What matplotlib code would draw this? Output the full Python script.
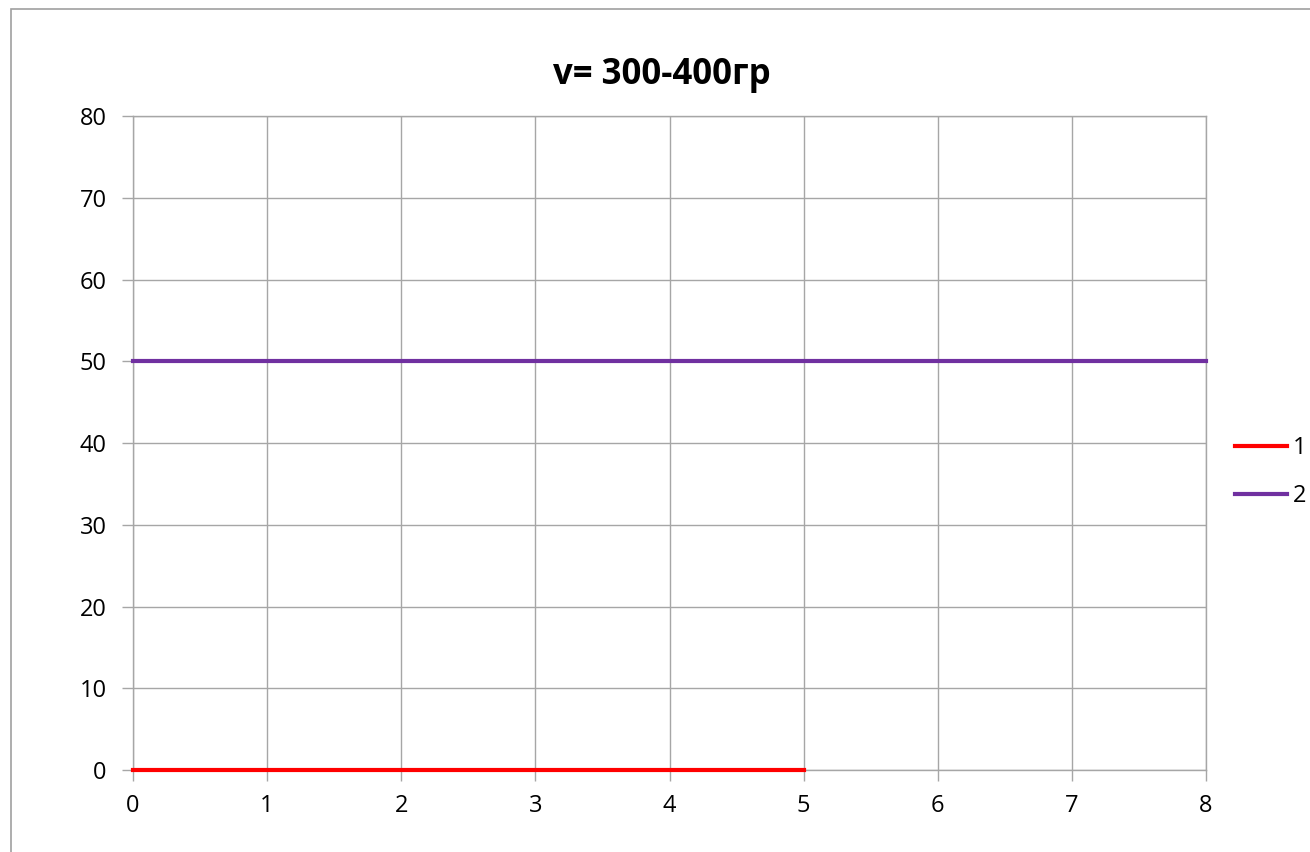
import matplotlib.pyplot as plt
from matplotlib.patches import Rectangle

plt.rcParams['font.family'] = ['Open Sans', 'DejaVu Sans']

# series data
x1 = [0, 1, 2, 3, 4, 5]
y1 = [0, 0, 0, 0, 0, 0]
x2 = [0, 1, 2, 3, 4, 5, 6, 7, 8]
y2 = [50, 50, 50, 50, 50, 50, 50, 50, 50]
labels = ['1', '2']
title = 'v= 300-400гр'

fig = plt.figure(figsize=(13.1, 8.52), dpi=100)
ax = fig.add_axes([133/1310, 1-770/852, (1206-133)/1310, (770-116)/852])

grid_c = '#a6a6a6'
ax.plot(x1, y1, color='#ff0000', lw=3, label=labels[0], clip_on=False, zorder=3)
ax.plot(x2, y2, color='#7030a0', lw=3, label=labels[1], clip_on=False, zorder=3)

ax.set_xlim(0, 8)
ax.set_ylim(0, 80)
ax.set_xticks(range(0, 9))
ax.set_yticks(range(0, 81, 10))
ax.grid(True, color=grid_c, lw=1)
ax.set_axisbelow(True)
for s in ax.spines.values():
    s.set_color(grid_c)
    s.set_linewidth(1)
ax.tick_params(colors=grid_c, labelcolor='black', labelsize=17, length=8, width=1)
ax.tick_params(axis='x', pad=9)
ax.tick_params(axis='y', pad=11)

fig.text(662/1310, 1-75/852, title, ha='center', va='center',
         fontsize=25, fontweight='bold')

fig.legend(loc='center left', bbox_to_anchor=(1226/1310, 1-472/852),
           frameon=False, fontsize=17, handlelength=2.2, handletextpad=0.25,
           labelspacing=1.0, borderaxespad=0)

# chart area outline
fig.add_artist(Rectangle((11/1310, -0.1), 1.2, 1-9/852+0.1,
                         transform=fig.transFigure, fill=False,
                         edgecolor='#a0a0a0', lw=1.2))

fig.savefig('out.png', dpi=100)
